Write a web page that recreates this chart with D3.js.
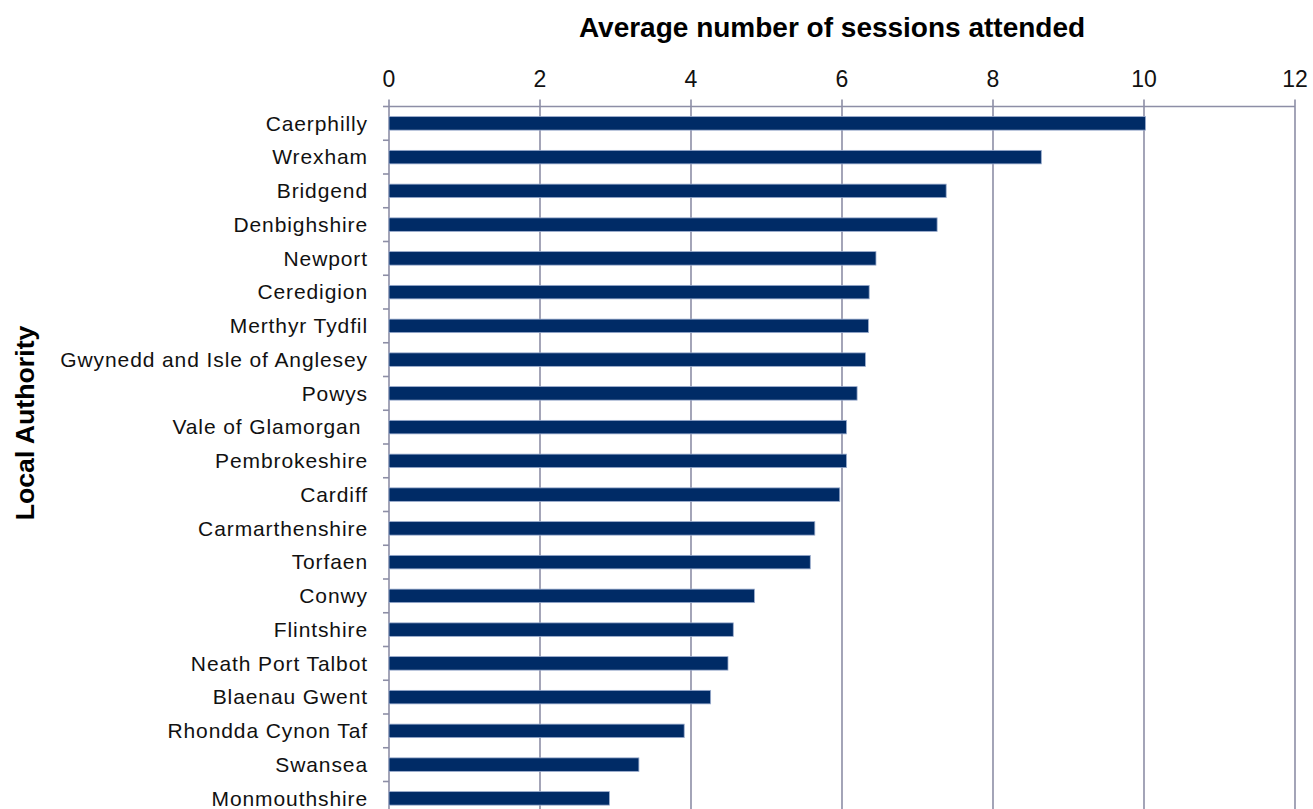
<!DOCTYPE html>
<html><head><meta charset="utf-8">
<script src="https://cdn.jsdelivr.net/npm/d3@7"></script>
<style>body{margin:0;background:#fff}svg{display:block;font-family:"Liberation Sans",Arial,sans-serif}</style>
</head><body><svg id="c" width="1313" height="809"></svg>
<script>
const categories = ["Caerphilly","Wrexham","Bridgend","Denbighshire","Newport","Ceredigion","Merthyr Tydfil","Gwynedd and Isle of Anglesey","Powys","Vale of Glamorgan ","Pembrokeshire","Cardiff","Carmarthenshire","Torfaen","Conwy","Flintshire","Neath Port Talbot","Blaenau Gwent","Rhondda Cynon Taf","Swansea","Monmouthshire"];
const values = [10.02,8.64,7.38,7.26,6.45,6.36,6.35,6.31,6.20,6.06,6.06,5.97,5.64,5.58,4.84,4.56,4.49,4.26,3.91,3.31,2.92];
const xTicks = [0,2,4,6,8,10,12];
const xTitle = "Average number of sessions attended";
const yTitle = "Local Authority";

(function(){
const svg = d3.select("#c");
const pLeft = 389, pRight = 1295, pTop = 106.5, step = 33.75;
const x = d3.scaleLinear().domain([0,12]).range([pLeft,pRight]);
const pBottom = pTop + step*categories.length;
const y = d3.scaleBand().domain(categories).range([pTop, pBottom]).paddingInner(0.6).paddingOuter(0.3);
const gridCol = "#8d8ea6";

// gridlines
svg.append("g").selectAll("line").data(xTicks).join("line")
  .attr("x1", d=>x(d)).attr("x2", d=>x(d)).attr("y1", pTop-7).attr("y2", pBottom)
  .attr("stroke", gridCol).attr("stroke-width", 1.6);
// top axis line
svg.append("line").attr("x1", pLeft).attr("x2", pRight).attr("y1", pTop).attr("y2", pTop)
  .attr("stroke", gridCol).attr("stroke-width", 1.6);
// left axis tick marks at band boundaries
const bounds = d3.range(categories.length+1).map(i => pTop + i*step);
svg.append("g").selectAll("line").data(bounds).join("line")
  .attr("x1", pLeft-6).attr("x2", pLeft).attr("y1", d=>d).attr("y2", d=>d)
  .attr("stroke", gridCol).attr("stroke-width", 1.6);

// bars
svg.append("g").selectAll("rect").data(categories).join("rect")
  .attr("x", x(0)).attr("y", d=>y(d))
  .attr("width", (d,i)=>x(values[i])-x(0)).attr("height", y.bandwidth())
  .attr("fill", "#002b66").attr("stroke", "#9aaccd").attr("stroke-width", 0.8);

// category labels
svg.append("g").selectAll("text").data(categories).join("text")
  .attr("x", 368).attr("y", d=>y(d)+y.bandwidth()/2).attr("dy","0.35em")
  .attr("text-anchor","end").attr("font-size", 21).attr("letter-spacing", 0.9).attr("fill","#111")
  .style("white-space","pre").text(d=>d);

// tick labels
svg.append("g").selectAll("text").data(xTicks).join("text")
  .attr("x", d=>x(d)).attr("y", 87).attr("text-anchor","middle")
  .attr("font-size", 23).attr("fill","#111").text(d=>d);

// titles
svg.append("text").attr("x", 832).attr("y", 37).attr("text-anchor","middle")
  .attr("font-size", 28).attr("font-weight","bold").attr("fill","#000").text(xTitle);
svg.append("text").attr("transform","translate(34,423) rotate(-90)").attr("text-anchor","middle")
  .attr("font-size", 26.7).attr("font-weight","bold").attr("fill","#000").text(yTitle);
})();
</script></body></html>
